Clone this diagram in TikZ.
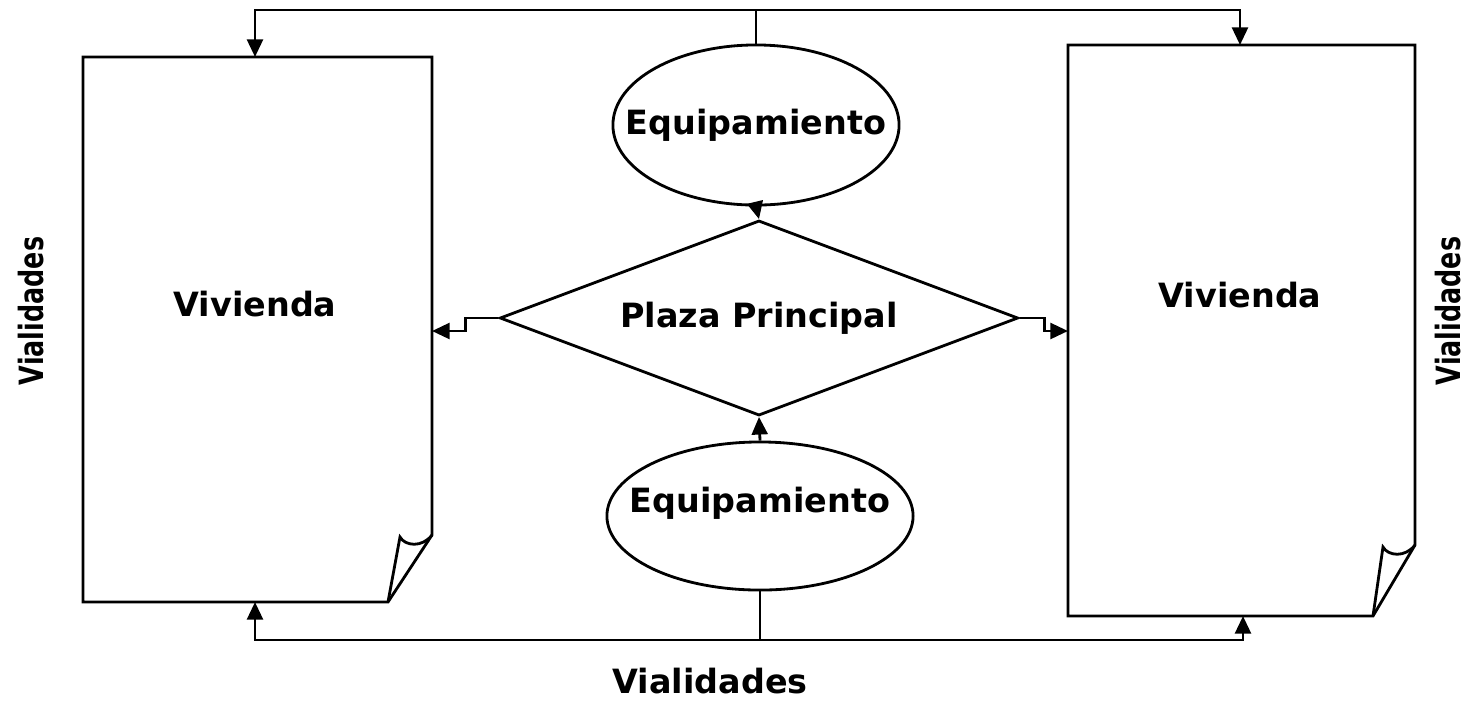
\documentclass[tikz,border=0pt]{standalone}
\usepackage{fontspec}
\setmainfont{DejaVu Sans}
\usetikzlibrary{shapes.geometric,arrows.meta}

\tikzset{
  lbl/.style={font=\bfseries\fontsize{9.5}{11}\selectfont},
  oval/.style={draw,ellipse,inner sep=0pt,lbl},
  rhomb/.style={draw,diamond,inner sep=0pt,aspect=2.66,lbl},
  link/.style={-{Triangle[length=5pt,width=4.5pt]}},
  sidelbl/.style={lbl,rotate=90,xscale=0.76},
}

\begin{document}
\begin{tikzpicture}[x=0.01cm,y=-0.01cm,line width=0.8pt]
  \useasboundingbox (0,0) rectangle (1469,702);
  % viviendas
  \draw (83,57) -- (432,57) -- (432,535) -- (388,602) -- (83,602) -- cycle;
  \draw (432,535) .. controls (422,548) and (405,546) .. (400,537) -- (388,602);
  \draw (1068,45) -- (1415,45) -- (1415,545) -- (1373,616) -- (1068,616) -- cycle;
  \draw (1415,545) .. controls (1405,558) and (1388,556) .. (1383,547) -- (1373,616);
  \coordinate (lpTop) at (255,57);
  \coordinate (lpBot) at (255,602);
  \coordinate (lpSide) at (432,331);
  \coordinate (rpTop) at (1240,45);
  \coordinate (rpBot) at (1243,616);
  \coordinate (rpSide) at (1068,331);
  \node[lbl] (viv1) at (255,304) {Vivienda};
  \node[lbl] (viv2) at (1240,295) {Vivienda};

  \node[oval,minimum width=2.86cm,minimum height=1.6cm] (eq1) at (756,125) {\makebox[0pt]{Equipamiento}};
  \node[oval,minimum width=3.06cm,minimum height=1.48cm,text height=0.25cm,text depth=0.33cm]
    (eq2) at (760,516) {\makebox[0pt]{Equipamiento}};
  \node[rhomb,minimum width=5.18cm,minimum height=1.95cm] (plaza) at (759,318) {Plaza Principal};

  \coordinate (busTop) at (756,10);
  \coordinate (busBot) at (760,640);
  \draw (eq1.north) -- (busTop);
  \draw[link] (busTop) -| (lpTop);
  \draw[link] (busTop) -| (rpTop);
  \draw (eq2.south) -- (busBot);
  \draw[link] (busBot) -| (lpBot);
  \draw[link] (busBot) -| (rpBot);

  \draw[link] (eq1.south) -- (plaza.north);
  \draw[link] (eq2.north) -- (plaza.south);
  \draw[link] (plaza.west) -- ++(-33,0) |- (lpSide);
  \draw[link] (plaza.east) -- ++(25,0) |- (rpSide);

  \node[sidelbl] (via1) at (31,311) {Vialidades};
  \node[sidelbl] (via2) at (1448,311) {Vialidades};
  \node[lbl] (via3) at (710,681) {Vialidades};
\end{tikzpicture}
\end{document}
